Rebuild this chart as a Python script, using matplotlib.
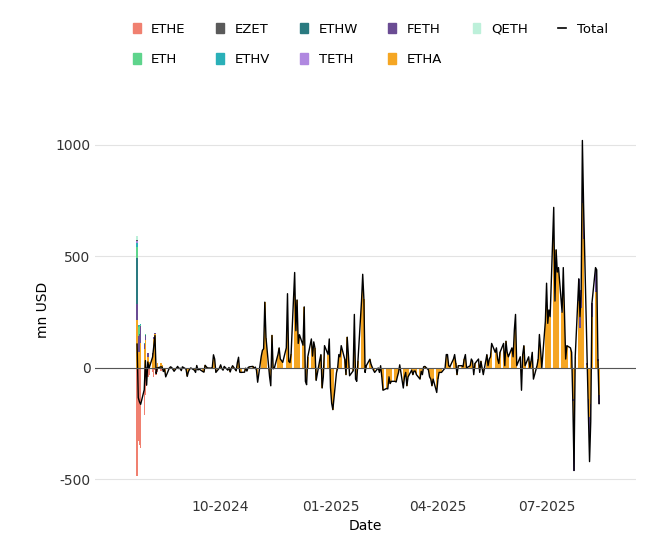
import numpy as np, pandas as pd, matplotlib
matplotlib.use("Agg")
import matplotlib.pyplot as plt
from matplotlib.lines import Line2D
from matplotlib.patches import Patch
plt.rcParams["axes.unicode_minus"] = False

start = "2024-07-23"
total = [107,-133,-152,-163,-98,33,-77,
 27,-2,49,98,145,-25,0,5,4,-16,-6,-40,-1,5,2,-6,-15,7,-3,-1,-12,5,
 -5,-38,-17,-6,0,-10,-20,11,-9,-5,-16,-19,12,5,0,-1,2,59,40,-20,
 0,14,-3,-10,7,-10,2,-18,-1,10,-13,24,48,-19,-20,-19,-1,-14,2,5,7,-2,4,
 -10,-64,52,79,86,295,135,-40,-80,146,-4,0,60,90,40,33,25,90,333,30,
 24,62,428,167,305,110,149,102,274,-60,-75,50,130,53,117,89,-56,35,60,-90,-40,
 100,60,130,-86,-159,-187,-22,0,60,50,100,38,-30,138,60,-35,-13,240,-50,-60,30,
 300,420,307,-20,10,39,16,3,-10,-20,0,-20,10,-40,-100,-92,-94,-40,-70,-60,
 -60,-63,-40,-20,14,-90,-40,-20,-80,-40,-10,-30,-14,-14,-30,-50,-15,-30,5,7,-8,
 -40,-50,-80,-50,-110,-50,-20,-20,-20,0,60,60,10,5,40,60,20,-30,10,10,5,
 40,60,0,10,40,30,-30,20,40,-20,30,0,-30,60,10,40,50,110,70,90,40,20,
 70,110,10,120,70,50,90,50,170,240,10,50,-100,60,100,10,50,0,30,70,-50,
 10,40,150,80,0,210,380,200,260,230,720,300,530,430,450,250,450,240,40,100,90,70,
 -150,-460,50,400,230,350,1020,730,20,-200,-420,-240,290,450,440,40,-160]

ETHE_start = [-484,-327,-346,-356,-210,-120,-78,-40,-30,-20,-40,-10,-30,-20,-15,-10]
ETHW_start = [204,0,2,-3,0,3,0,0,0,0,0,0,0,0,0,0]
ETH_start = [52,40,40,5,0,4,0,0,0,0,0,0,0,0,0,0]
FETH_start = [71,74,75,74,24,19,5,16,0,18,10,1,0,0,0,0]
EZET_start = [6,0,0,0,0,0,0,0,0,0,0,0,0,0,0,0]
ETHV_start = [15,9,4,3,3,1,1,2,0,0,0,0,0,0,0,0]
TETH_start = [10,1,0,1,0,0,0,0,0,0,0,0,0,0,0,0]
QETH_start = [16,0,0,0,0,0,0,0,0,0,0,0,0,0,0,0]
FETH_end = [-10,-120,10,100,50,80,280,150,5,-60,-200,-80,60,110,100,10,-40]

n = len(total)
def pad_start(a): return np.array(a + [0]*(n-len(a)), float)
def pad_end(a): return np.array([0]*(n-len(a)) + a, float)
comp = {
 "ETHE": pad_start(ETHE_start), "EZET": pad_start(EZET_start),
 "ETHW": pad_start(ETHW_start), "FETH": pad_start(FETH_start)+pad_end(FETH_end),
 "QETH": pad_start(QETH_start), "ETH": pad_start(ETH_start),
 "ETHV": pad_start(ETHV_start), "TETH": pad_start(TETH_start)}
comp["ETHA"] = np.array(total, float) - sum(comp.values())
colors = {"ETHE":"#f08070","EZET":"#5a5a5a","ETHW":"#2a7a80","FETH":"#6a4c93",
 "QETH":"#bdf0da","ETH":"#5ed48c","ETHV":"#2ab0b8","TETH":"#b088e0","ETHA":"#f5a623"}
dates = pd.bdate_range(start, periods=n)

fig = plt.figure(figsize=(6.71,5.55), dpi=100)
ax = fig.add_axes([0.142,0.108,0.806,0.667])
pos = np.zeros(n); neg = np.zeros(n)
for k in ["ETHA","FETH","ETHW","ETH","ETHV","TETH","EZET","QETH","ETHE"]:
    v = comp[k]; vp = np.clip(v,0,None); vn = np.clip(v,None,0)
    ax.bar(dates, vp, bottom=pos, width=1.2, color=colors[k], lw=0)
    ax.bar(dates, vn, bottom=neg, width=1.2, color=colors[k], lw=0)
    pos += vp; neg += vn
ax.plot(dates, total, color="black", lw=1.0)
ax.axhline(0, color="#555555", lw=0.8)
ax.set_ylim(-570,1090)
ax.set_yticks([-500,0,500,1000])
ax.grid(axis="y", color="#e3e3e3", lw=0.8); ax.set_axisbelow(True)
ax.set_xticks(pd.to_datetime(["2024-10-01","2025-01-01","2025-04-01","2025-07-01"]))
ax.set_xticklabels(["10-2024","01-2025","04-2025","07-2025"])
ax.set_xlim(pd.Timestamp("2024-06-18"), pd.Timestamp("2025-09-14"))
for s in ax.spines.values(): s.set_visible(False)
ax.tick_params(length=0, labelsize=10, colors="#333333")
ax.set_xlabel("Date", fontsize=10); ax.set_ylabel("mn USD", fontsize=10)
P = lambda k: Patch(color=colors[k])
blank = Patch(color="none")
h = [P("ETHE"),P("ETH"),P("EZET"),P("ETHV"),P("ETHW"),P("TETH"),P("FETH"),P("ETHA"),P("QETH"),blank,
     Line2D([],[],color="black",lw=1.2)]
l = ["ETHE","ETH","EZET","ETHV","ETHW","TETH","FETH","ETHA","QETH","","Total"]
fig.legend(h, l, loc="upper left", bbox_to_anchor=(0.18,0.98), ncol=6, frameon=False,
           fontsize=9.5, handlelength=0.6, handleheight=0.8, columnspacing=2.3, labelspacing=1.3)
fig.savefig("out.png", dpi=100)
